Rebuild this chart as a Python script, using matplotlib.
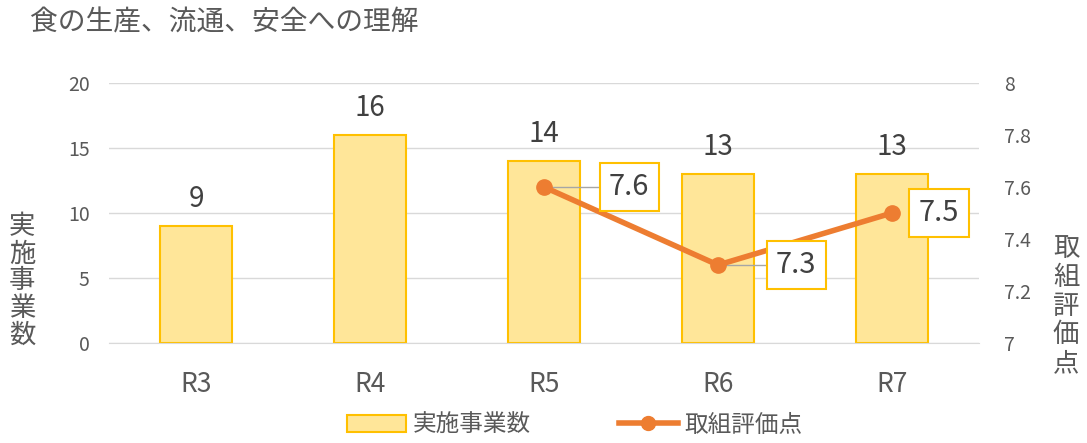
import matplotlib.pyplot as plt
from matplotlib.lines import Line2D
from matplotlib.patches import Patch

plt.rcParams['font.family'] = ['Noto Sans CJK JP', 'DejaVu Sans']

# データ
categories = ['R3', 'R4', 'R5', 'R6', 'R7']
jigyo = [9, 16, 14, 13, 13]
hyoka_cats = ['R5', 'R6', 'R7']
hyoka = [7.6, 7.3, 7.5]

txt = '#595959'
bar_fill = '#FFE699'
bar_edge = '#FFC000'
orange = '#ED7D31'

fig = plt.figure(figsize=(10.87, 4.43), dpi=100)
ax = fig.add_axes([109 / 1087, 1 - 343 / 443, 870 / 1087, 260 / 443])
ax2 = ax.twinx()

x = list(range(len(categories)))
ax.bar(x, jigyo, width=0.41, color=bar_fill, edgecolor=bar_edge, linewidth=1.5, zorder=2)
for xi, v in zip(x, jigyo):
    ax.text(xi, v + 0.9, str(v), ha='center', va='bottom', fontsize=20, color='#404040')

ax.set_xlim(-0.5, len(categories) - 0.5)
ax.set_ylim(0, 20)
ax.set_yticks([0, 5, 10, 15, 20])
ax.grid(axis='y', color='#D9D9D9', linewidth=1, zorder=0)
ax.set_axisbelow(True)
ax.set_xticks(x)
ax.set_xticklabels(categories, fontsize=19, color=txt)
ax.tick_params(axis='x', length=0, pad=20)
ax.tick_params(axis='y', length=0, labelsize=14, labelcolor=txt, pad=14)
for s in ax.spines.values():
    s.set_visible(False)
ax.spines['bottom'].set_visible(True)
ax.spines['bottom'].set_color('#D9D9D9')

hx = [categories.index(c) for c in hyoka_cats]
ax2.plot(hx, hyoka, color=orange, linewidth=4, marker='o', markersize=11, zorder=3)
ax2.set_ylim(7, 8)
ax2.set_yticks([7, 7.2, 7.4, 7.6, 7.8, 8])
ax2.set_yticklabels(['7', '7.2', '7.4', '7.6', '7.8', '8'])
ax2.tick_params(axis='y', length=0, labelsize=14, labelcolor=txt, pad=18)
for s in ax2.spines.values():
    s.set_visible(False)

# データラベル（引き出し線つき）
offsets = [(0.49, True), (0.45, True), (0.27, False)]
for xi, v, (dx, leader) in zip(hx, hyoka, offsets):
    tx = xi + dx
    if leader:
        ax2.plot([xi, tx - 0.16], [v, v], color='#A6A6A6', linewidth=1, zorder=2)
    ax2.text(tx, v, f'{v:.1f}', ha='center', va='center', fontsize=21, color='#404040',
             zorder=5,
             bbox=dict(boxstyle='square,pad=0.32', facecolor='white', edgecolor=bar_edge, linewidth=1.5))

# 軸タイトル（縦書き）
fig.text(22 / 1087, 1 - 281 / 443, '\n'.join('実施事業数'), ha='center', va='center',
         fontsize=19, color=txt, linespacing=1.0)
fig.text(1066 / 1087, 1 - 306 / 443, '\n'.join('取組評価点'), ha='center', va='center',
         fontsize=19, color=txt, linespacing=1.08)

fig.text(30 / 1087, 1 - 22 / 443, '食の生産、流通、安全への理解', ha='left', va='center',
         fontsize=20, color=txt)

handles = [Patch(facecolor=bar_fill, edgecolor=bar_edge, linewidth=1.5),
           Line2D([0], [0], color=orange, linewidth=4, marker='o', markersize=10)]
fig.legend(handles, ['実施事業数', '取組評価点'], loc='center', bbox_to_anchor=(0.529, 1 - 425 / 443),
           ncol=2, frameon=False, fontsize=17, labelcolor=txt, columnspacing=3.7,
           handlelength=2.5, handletextpad=0.3)

plt.savefig('out.png', dpi=100)
